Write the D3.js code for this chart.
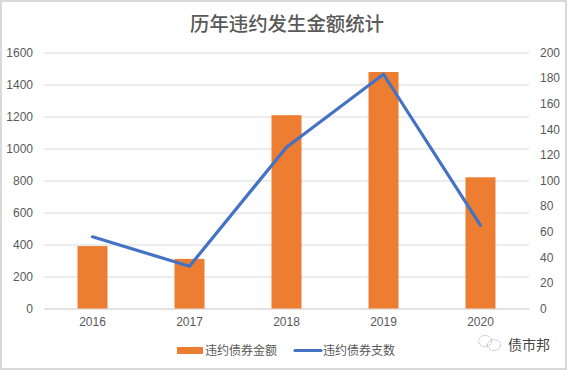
<!DOCTYPE html>
<html><head><meta charset="utf-8">
<script src="https://cdn.jsdelivr.net/npm/d3@7/dist/d3.min.js"></script>
<style>html,body{margin:0;padding:0;background:#fff}svg{display:block}text{font-family:"Noto Sans CJK SC","Liberation Sans",sans-serif}</style>
</head><body><svg id="c" width="567" height="370"></svg>
<script>
const years=["2016","2017","2018","2019","2020"];
const amounts=[390,310,1208,1478,820];
const counts=[56,33,126,183,65];
const leftTicks=[0,200,400,600,800,1000,1200,1400,1600];
const rightTicks=[0,20,40,60,80,100,120,140,160,180,200];
const svg=d3.select("#c");
svg.append("rect").attr("x",1).attr("y",1).attr("width",565).attr("height",368).attr("fill","#fff").attr("stroke","#d9d9d9").attr("stroke-width",2);
const x=d3.scaleBand().domain(years).range([44,529]);
const yL=d3.scaleLinear().domain([0,1600]).range([308.5,52.5]);
const yR=d3.scaleLinear().domain([0,200]).range([308.5,52.5]);
const font='"Liberation Sans",sans-serif';
const gl=svg.append("g").attr("transform","translate(44,0)").call(d3.axisLeft(yL).tickValues(leftTicks).tickFormat(d3.format("d")).tickSize(-485).tickPadding(11));
gl.select(".domain").remove();
gl.selectAll("line").attr("stroke","#d9d9d9").attr("stroke-width",1);
gl.selectAll("text").attr("fill","#595959").style("font-family",font).style("font-size","12px");
const gr=svg.append("g").attr("transform","translate(529,0)").call(d3.axisRight(yR).tickValues(rightTicks).tickFormat(d3.format("d")).tickSize(0).tickPadding(11));
gr.select(".domain").remove();
gr.selectAll("text").attr("fill","#595959").style("font-family",font).style("font-size","12px");
const gx=svg.append("g").attr("transform","translate(0,308.5)").call(d3.axisBottom(x).tickSize(0).tickPadding(9));
gx.select(".domain").attr("stroke","#d9d9d9");
gx.selectAll("text").attr("fill","#595959").style("font-family",font).style("font-size","12px");
const bw=30;
svg.append("g").selectAll("rect").data(years).join("rect")
 .attr("x",d=>x(d)+x.bandwidth()/2-bw/2).attr("width",bw)
 .attr("y",(d,i)=>yL(amounts[i])).attr("height",(d,i)=>yL(0)-yL(amounts[i])).attr("fill","#ed7d31");
const line=d3.line().x((d,i)=>x(years[i])+x.bandwidth()/2).y(d=>yR(d));
svg.append("path").datum(counts).attr("d",line).attr("fill","none").attr("stroke","#4472c4").attr("stroke-width",3.2).attr("stroke-linejoin","round").attr("stroke-linecap","round");
svg.append("text").attr("x",287).attr("y",31).attr("text-anchor","middle").attr("fill","#595959").style("font-size","19.4px").style("font-weight","500").text("历年违约发生金额统计");
svg.append("rect").attr("x",177).attr("y",347).attr("width",26).attr("height",7).attr("fill","#ed7d31");
svg.append("text").attr("x",205).attr("y",355).attr("fill","#595959").style("font-size","12px").text("违约债券金额");
svg.append("line").attr("x1",295).attr("x2",321).attr("y1",350.5).attr("y2",350.5).attr("stroke","#4472c4").attr("stroke-width",3.2).attr("stroke-linecap","round");
svg.append("text").attr("x",323).attr("y",355).attr("fill","#595959").style("font-size","12px").text("违约债券支数");
const wm=svg.append("g").attr("fill","none").attr("stroke","#aaa").attr("stroke-width",0.8).attr("stroke-dasharray","2 1");
wm.append("ellipse").attr("cx",485).attr("cy",341).attr("rx",6.5).attr("ry",5.5);
wm.append("ellipse").attr("cx",494).attr("cy",345).attr("rx",6.5).attr("ry",5.5);
svg.append("text").attr("x",508).attr("y",350).attr("fill","#444").style("font-size","14px").text("债市邦");
</script></body></html>
